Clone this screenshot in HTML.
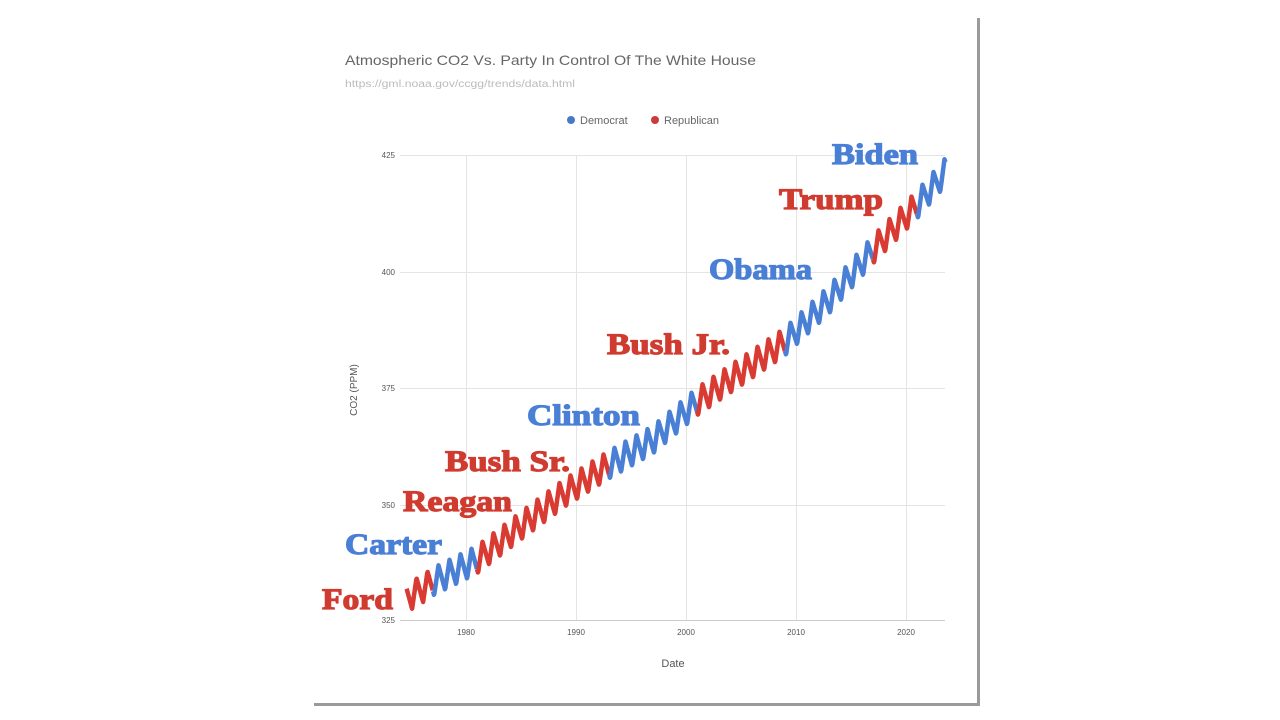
<!DOCTYPE html>
<html><head><meta charset="utf-8"><style>
html,body{margin:0;padding:0;background:#fff;width:1280px;height:720px;overflow:hidden}
svg{display:block}
.lab{font-family:"Liberation Serif",serif;font-weight:bold;font-size:30px;stroke-width:1.2px}
.s{font-family:"Liberation Sans",sans-serif}
</style></head><body>
<svg id="c" width="1280" height="720" xmlns="http://www.w3.org/2000/svg">
<rect x="977" y="18" width="3" height="688" fill="#9a9a9a"/>
<rect x="314" y="703" width="666" height="3" fill="#9a9a9a"/>
<text class="s" x="345" y="65" font-size="14" fill="#666" textLength="411" lengthAdjust="spacingAndGlyphs">Atmospheric CO2 Vs. Party In Control Of The White House</text>
<text class="s" x="345" y="87" font-size="10" fill="#bbb" textLength="230" lengthAdjust="spacingAndGlyphs">https://gml.noaa.gov/ccgg/trends/data.html</text>
<circle cx="571" cy="120" r="4" fill="#4a78c8"/>
<text class="s" x="580" y="124" font-size="11" fill="#666">Democrat</text>
<circle cx="655" cy="120" r="4" fill="#cc3b3b"/>
<text class="s" x="664" y="124" font-size="11" fill="#666">Republican</text>
<g stroke="#e4e4e4" stroke-width="1">
<line x1="400" y1="155.5" x2="945" y2="155.5"/>
<line x1="400" y1="272.5" x2="945" y2="272.5"/>
<line x1="400" y1="388.5" x2="945" y2="388.5"/>
<line x1="400" y1="505.5" x2="945" y2="505.5"/>
<line x1="466.5" y1="155" x2="466.5" y2="620"/>
<line x1="576.5" y1="155" x2="576.5" y2="620"/>
<line x1="686.5" y1="155" x2="686.5" y2="620"/>
<line x1="796.5" y1="155" x2="796.5" y2="620"/>
<line x1="906.5" y1="155" x2="906.5" y2="620"/>
</g>
<line x1="400" y1="620.5" x2="945" y2="620.5" stroke="#ccc"/>
<g class="s" font-size="8" fill="#555" text-anchor="end">
<text x="395" y="158">425</text><text x="395" y="275">400</text><text x="395" y="391">375</text><text x="395" y="508">350</text><text x="395" y="623">325</text>
</g>
<g class="s" font-size="8" fill="#555" text-anchor="middle">
<text x="466" y="635">1980</text><text x="576" y="635">1990</text><text x="686" y="635">2000</text><text x="796" y="635">2010</text><text x="906" y="635">2020</text>
</g>
<text class="s" x="673" y="667" font-size="11" fill="#555" text-anchor="middle">Date</text>
<text class="s" x="357" y="390" font-size="10" fill="#555" text-anchor="middle" transform="rotate(-90 357 390)">CO2 (PPM)</text>
<g id="lines"></g>
<g class="lab">
<text x="322" y="609" fill="#d03b30" stroke="#d03b30" textLength="71" lengthAdjust="spacingAndGlyphs">Ford</text>
<text x="345" y="554" fill="#4a7fd6" stroke="#4a7fd6" textLength="97" lengthAdjust="spacingAndGlyphs">Carter</text>
<text x="403" y="511" fill="#d03b30" stroke="#d03b30" textLength="109" lengthAdjust="spacingAndGlyphs">Reagan</text>
<text x="445" y="471" fill="#d03b30" stroke="#d03b30" textLength="125" lengthAdjust="spacingAndGlyphs">Bush Sr.</text>
<text x="527" y="425" fill="#4a7fd6" stroke="#4a7fd6" textLength="113" lengthAdjust="spacingAndGlyphs">Clinton</text>
<text x="607" y="354" fill="#d03b30" stroke="#d03b30" textLength="123" lengthAdjust="spacingAndGlyphs">Bush Jr.</text>
<text x="709" y="279" fill="#4a7fd6" stroke="#4a7fd6" textLength="103" lengthAdjust="spacingAndGlyphs">Obama</text>
<text x="779" y="209" fill="#d03b30" stroke="#d03b30" textLength="104" lengthAdjust="spacingAndGlyphs">Trump</text>
<text x="832" y="164" fill="#4a7fd6" stroke="#4a7fd6" textLength="86" lengthAdjust="spacingAndGlyphs">Biden</text>
</g>
</svg>
<script>
var P=[[1974.6,598],[1977,582],[1981,560],[1985,526],[1989,493],[1993,465],[1997,440],[2001,402],[2005,372],[2009,342],[2013,300],[2017,250],[2021,205],[2023.6,172]];
function cy(t){for(var i=0;i<P.length-1;i++){if(t<=P[i+1][0]){var f=(t-P[i][0])/(P[i+1][0]-P[i][0]);return P[i][1]+f*(P[i+1][1]-P[i][1]);}}return P[P.length-1][1];}
function X(t){return 466+(t-1980)*11;}
function w(t){var p=((t-0.1)%1+1)%1;return p<0.4?(p/0.4)*2-1:1-((p-0.4)/0.6)*2;}
var segs=[[1974.6,1977,'#d93a32'],[1977,1981,'#4a7fd6'],[1981,1993,'#d93a32'],[1993,2001,'#4a7fd6'],[2001,2009,'#d93a32'],[2009,2017,'#4a7fd6'],[2017,2021,'#d93a32'],[2021,2023.6,'#4a7fd6']];
var g=document.getElementById('lines'),h='';
segs.forEach(function(s){var d='';for(var t=s[0];t<=s[1]+1e-6;t+=1/24){var y=cy(t)-14*w(t);d+=(d?'L':'M')+X(t).toFixed(1)+' '+y.toFixed(1);}
h+='<path d="'+d+'" fill="none" stroke="'+s[2]+'" stroke-width="4.5" stroke-linejoin="round"/>';});
g.innerHTML=h;
</script>
</body></html>
